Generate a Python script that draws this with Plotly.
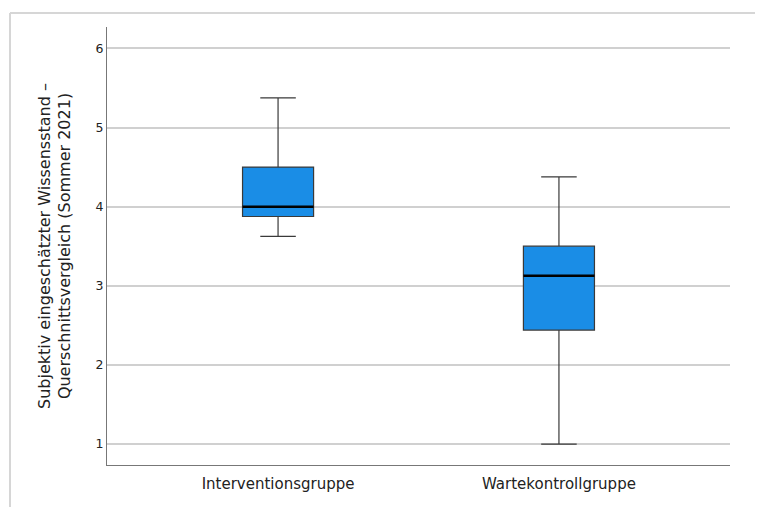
import plotly.graph_objects as go

categories = ["Interventionsgruppe", "Wartekontrollgruppe"]
lower_whisker = [3.625, 1.0]
q1_values = [3.875, 2.44]
medians = [4.0, 3.125]
q3_values = [4.5, 3.5]
upper_whisker = [5.375, 4.375]
y_ticks = [1, 2, 3, 4, 5, 6]

positions = list(range(len(categories)))
box_w = 0.253

fig = go.Figure()
for i, cat in enumerate(categories):
    fig.add_trace(go.Box(
        x=[positions[i]], q1=[q1_values[i]], median=[medians[i]], q3=[q3_values[i]],
        lowerfence=[lower_whisker[i]], upperfence=[upper_whisker[i]],
        width=box_w, whiskerwidth=0.5,
        fillcolor="#1a8de6", line=dict(color="#3a3a3a", width=1.2),
        boxpoints=False, name=cat, showlegend=False, hoverinfo="skip",
    ))
    fig.add_trace(go.Scatter(
        x=[positions[i] - box_w / 2, positions[i] + box_w / 2],
        y=[medians[i], medians[i]], mode="lines",
        line=dict(color="#000000", width=2.5), showlegend=False, hoverinfo="skip",
    ))

frame_style = dict(color="#d6d6d6", width=2)
fig.update_layout(
    width=747, height=499,
    margin=dict(l=99, r=25, t=19, b=42),
    paper_bgcolor="white", plot_bgcolor="white",
    font=dict(family="DejaVu Sans", color="#222222"),
    xaxis=dict(
        range=[-0.609, 1.609], tickvals=positions, ticktext=categories,
        showgrid=False, zeroline=False, showline=True, linecolor="#777777", linewidth=1.2,
        ticks="", tickfont=dict(size=15, color="#222222"), ticklabelstandoff=5,
    ),
    yaxis=dict(
        range=[0.735, 6.27], tickvals=y_ticks, ticktext=[str(t) for t in y_ticks],
        showgrid=True, gridcolor="#d0d0d0", gridwidth=1.5, zeroline=False,
        showline=True, linecolor="#777777", linewidth=1.2, ticks="",
        tickfont=dict(size=12.5, color="#222222"),
        title=dict(text="Subjektiv eingeschätzter Wissensstand –<br>Querschnittsvergleich (Sommer 2021)",
                   font=dict(size=16, color="#222222"), standoff=20),
    ),
    shapes=[
        dict(type="line", xref="paper", yref="paper", x0=-0.1557, x1=1.3, y0=1.032, y1=1.032,
             line=frame_style, layer="below"),
        dict(type="line", xref="paper", yref="paper", x0=-0.1557, x1=-0.1557, y0=-0.3, y1=1.032,
             line=frame_style, layer="below"),
    ],
)

fig.write_html("out.html")
